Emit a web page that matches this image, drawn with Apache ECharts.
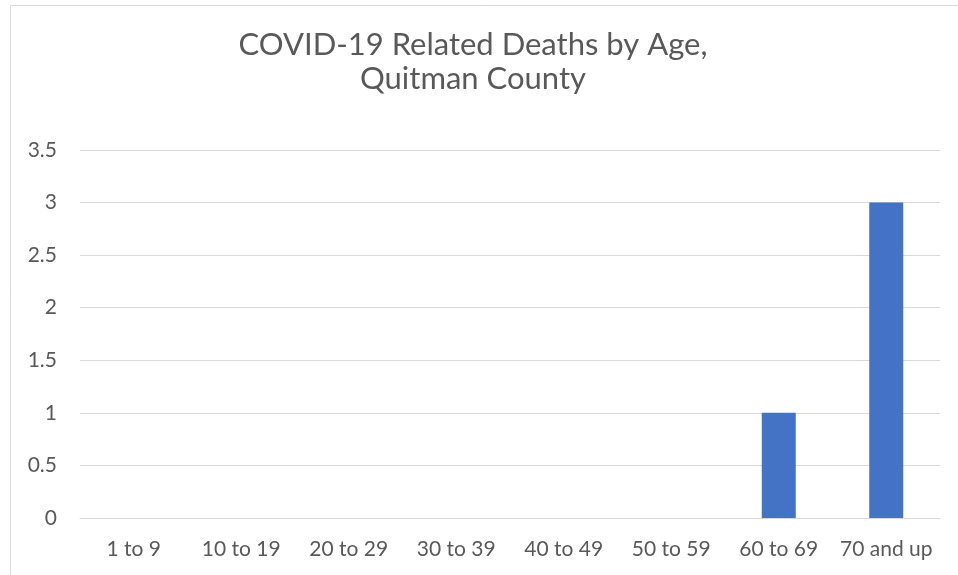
<!DOCTYPE html>
<html>
<head>
<meta charset="utf-8">
<script src="https://cdn.jsdelivr.net/npm/echarts@6/dist/echarts.min.js"></script>
<style>
  html, body { margin: 0; padding: 0; background: #fff; }
  #chart { width: 958px; height: 575px; }
</style>
</head>
<body>
<div id="chart"></div>
<script>
const titleText = 'COVID-19 Related Deaths by Age,\nQuitman County'
const ageGroups = ['1 to 9', '10 to 19', '20 to 29', '30 to 39', '40 to 49', '50 to 59', '60 to 69', '70 and up']
const deaths = [0, 0, 0, 0, 0, 0, 1, 3]

const chart = echarts.init(document.getElementById('chart'))
const font = 'Lato, "Open Sans", sans-serif'

chart.setOption({
  animation: false,
  // chart area frame (cropped on the right and bottom)
  graphic: [{
    type: 'rect',
    shape: { x: 10.5, y: 5.5, width: 1000, height: 700 },
    style: { fill: 'none', stroke: '#d9d9d9', lineWidth: 1 },
    silent: true
  }],
  title: {
    text: titleText,
    left: 468,
    top: 23,
    textAlign: 'center',
    textStyle: {
      fontFamily: font,
      fontSize: 31,
      fontWeight: 'normal',
      color: '#595959',
      lineHeight: 34
    }
  },
  grid: { left: 80, right: 18, top: 150, bottom: 57, containLabel: false },
  xAxis: {
    type: 'category',
    data: ageGroups,
    axisLine: { show: true, lineStyle: { color: '#d9d9d9', width: 1 } },
    axisTick: { show: false },
    axisLabel: { color: '#595959', fontFamily: font, fontSize: 21, margin: 21, interval: 0 }
  },
  yAxis: {
    type: 'value',
    min: 0,
    max: 3.5,
    interval: 0.5,
    axisLine: { show: false },
    axisTick: { show: false },
    axisLabel: { color: '#595959', fontFamily: font, fontSize: 21, margin: 23 },
    splitLine: { lineStyle: { color: '#d9d9d9', width: 1 } }
  },
  series: [{
    type: 'bar',
    data: deaths,
    barWidth: 34,
    itemStyle: { color: '#4472c4' }
  }]
})
</script>
</body>
</html>
